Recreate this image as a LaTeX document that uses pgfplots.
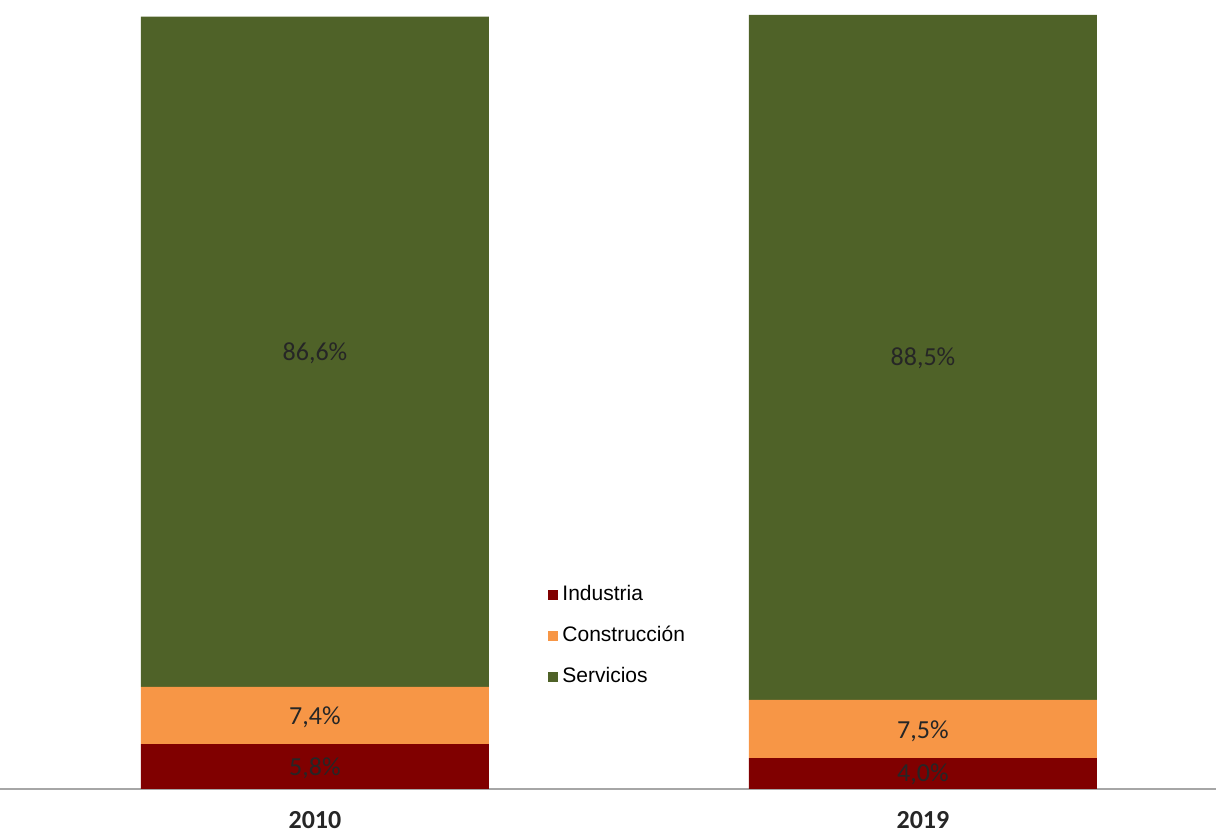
\documentclass[border=0pt]{standalone}
\usepackage{pgfplots}
\pgfplotsset{compat=1.18}
\usepackage{fontspec}
\setmainfont{Carlito}
\newfontfamily\legfont{Liberation Sans}
\definecolor{indred}{HTML}{800000}
\definecolor{conorange}{HTML}{F79646}
\definecolor{sergreen}{HTML}{4F6228}
\begin{document}
\begin{tikzpicture}
\begin{axis}[
  at={(0,0)}, anchor=south west,
  scale only axis, width=608pt, height=387pt,
  xmin=-0.518, xmax=1.482, ymin=0, ymax=100,
  ybar stacked, bar width=174pt,
  axis x line*=bottom, axis y line=none,
  x axis line style={draw=gray!70, line width=0.8pt, -},
  xtick=data, xticklabels={2010,2019},
  xtick style={draw=none},
  xticklabel style={anchor=center, inner sep=0pt, yshift=-15.3pt, font=\bfseries\fontsize{13}{13}\selectfont, text=black!85},
  legend cell align=left,
  legend style={draw=none, fill=none, at={(0.4507,0.2685)}, anchor=north west,
    font=\legfont\fontsize{10.5}{12}\selectfont, row sep=7.3pt, inner sep=0pt},
  legend image code/.code={\fill[#1] (0pt,-2.5pt) rectangle (5pt,2.5pt);},
]
\addplot[fill=indred, draw=none] coordinates {(0,5.8) (1,4.0)};
\addlegendentry{Industria}
\addplot[fill=conorange, draw=none] coordinates {(0,7.4) (1,7.5)};
\addlegendentry{Construcción}
\addplot[fill=sergreen, draw=none] coordinates {(0,86.6) (1,88.5)};
\addlegendentry{Servicios}
\end{axis}
\begin{axis}[
  at={(0,0)}, anchor=south west,
  scale only axis, width=608pt, height=387pt,
  xmin=-0.518, xmax=1.482, ymin=0, ymax=100,
  hide axis,
  point meta=explicit symbolic,
  nodes near coords,
  every node near coord/.append style={anchor=center, font=\fontsize{13}{15}\selectfont, text=black!85},
]
\addplot[draw=none, mark=none] coordinates {
  (0,2.7) [{5,8\%}]
  (0,9.3) [{7,4\%}]
  (0,56.3) [{86,6\%}]
  (1,1.9) [{4,0\%}]
  (1,7.4) [{7,5\%}]
  (1,55.6) [{88,5\%}]
};
\end{axis}
\pgfresetboundingbox
\path[use as bounding box] (0,-22.5pt) rectangle (608pt,394.5pt);
\end{tikzpicture}
\end{document}
